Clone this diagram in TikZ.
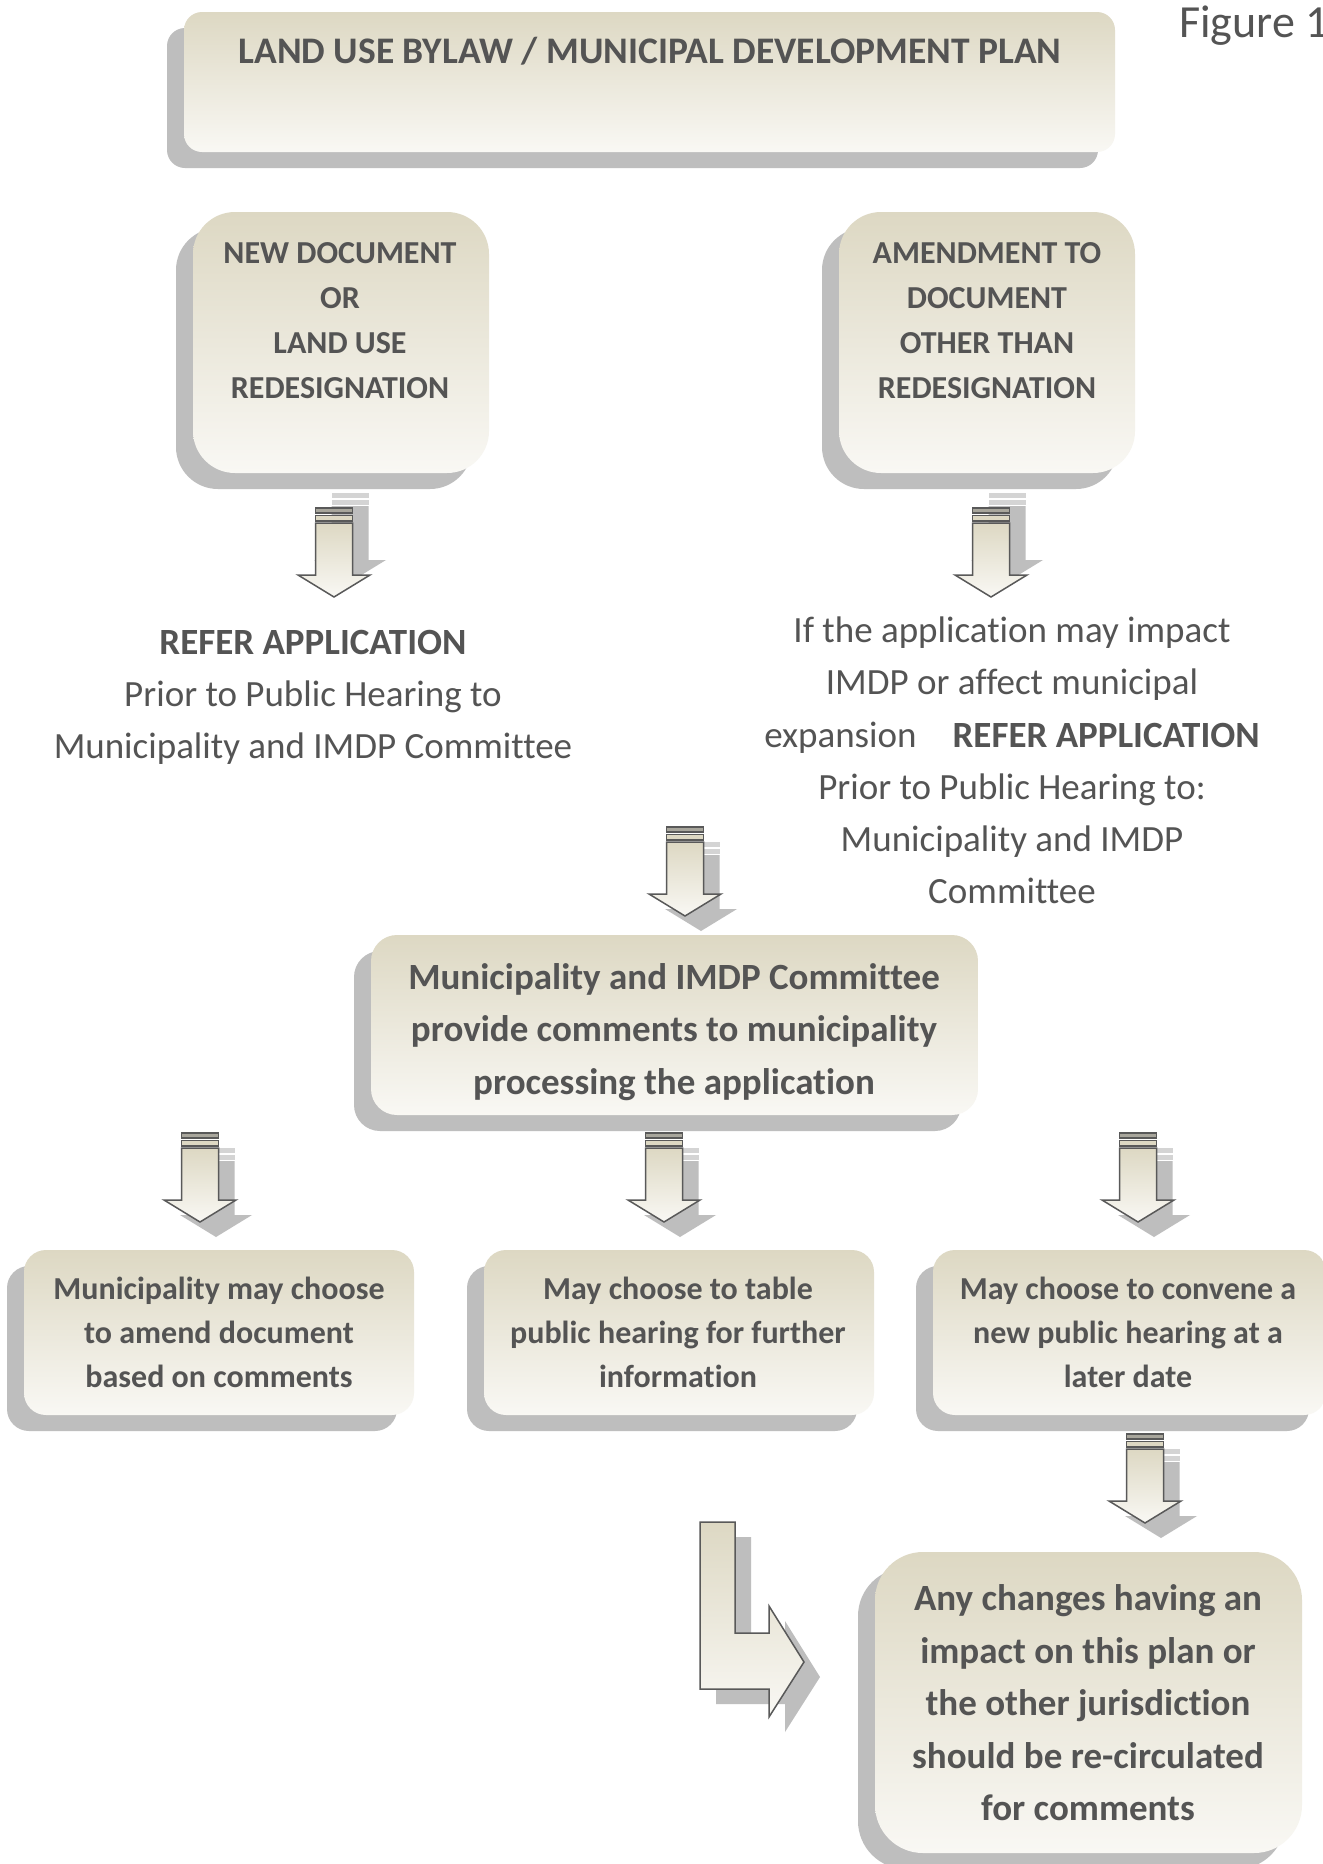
\documentclass[tikz,border=0pt]{standalone}
\usepackage{fontspec}
\setmainfont{Carlito}[RawFeature={-liga;-clig;-dlig}]
\definecolor{tanC}{RGB}{221,216,195}
\definecolor{lightC}{RGB}{249,248,244}
\definecolor{shadowC}{RGB}{190,190,190}
\definecolor{shstripeC}{RGB}{212,212,212}
\definecolor{textC}{RGB}{84,84,84}
\definecolor{lineC}{RGB}{89,89,89}
\definecolor{stripeC}{RGB}{168,166,156}

% shadowed rounded box: name, x, y, width, height, radius
\newcommand\shbox[6]{%
  \fill[shadowC, rounded corners=#6pt] ({#2-17},{#3+16}) rectangle +(#4,#5);
  \node[boxC, rounded corners=#6pt, minimum width=#4pt, minimum height=#5pt] (#1) at (#2,#3) {};
}
% block arrow pointing down: centre x, top y, shadow dx, shadow dy
\newcommand\dnarrow[4]{%
  \begin{scope}[shift={(#3,#4)}]
    \fill[shadowC] ({#1-18.5},{#2+13}) -- ({#1+18.5},{#2+13}) -- ({#1+18.5},{#2+67})
      -- ({#1+36},{#2+67}) -- (#1,{#2+89}) -- ({#1-36},{#2+67}) -- ({#1-18.5},{#2+67}) -- cycle;
    \fill[shstripeC] ({#1-18.5},#2) rectangle ({#1+18.5},{#2+5});
    \fill[shstripeC] ({#1-18.5},{#2+7}) rectangle ({#1+18.5},{#2+12});
  \end{scope}
  \path[aline, top color=tanC, bottom color=lightC] ({#1-18.5},{#2+15}) -- ({#1+18.5},{#2+15}) -- ({#1+18.5},{#2+67})
      -- ({#1+36},{#2+67}) -- (#1,{#2+89}) -- ({#1-36},{#2+67}) -- ({#1-18.5},{#2+67}) -- cycle;
  \draw[aline, fill=stripeC] ({#1-18.5},#2) rectangle ({#1+18.5},{#2+5});
  \draw[aline, fill=tanC] ({#1-18.5},{#2+7.5}) rectangle ({#1+18.5},{#2+13});
}

\begin{document}
\begin{tikzpicture}[x=1pt,y=-1pt,
  boxC/.style={draw=none, top color=tanC, bottom color=lightC, inner sep=0pt, outer sep=0pt, anchor=north west},
  capbox/.style={text=textC, font=\fontsize{32}{45}\selectfont\bfseries, align=center, inner sep=0pt},
  rowtxt/.style={text=textC, font=\fontsize{32}{44}\selectfont\bfseries, align=center, inner sep=0pt},
  bigbold/.style={text=textC, font=\fontsize{37}{52.5}\selectfont\bfseries, align=center, inner sep=0pt},
  bodytxt/.style={text=textC, font=\fontsize{37}{52.3}\selectfont, align=center, inner sep=0pt},
  aline/.style={draw=lineC, line width=1.5pt, line join=miter}
]
\useasboundingbox (0,0) rectangle (1323,1864);
\fill[white] (0,0) rectangle (1323,1864);

% boxes
\shbox{top}{184}{12}{931}{140}{18}
\shbox{newdoc}{193}{212}{296}{261}{42}
\shbox{amend}{839}{212}{296}{261}{42}
\shbox{mid}{371}{935}{607}{180}{26}
\shbox{rowA}{24}{1250}{390}{165}{22}
\shbox{rowB}{484}{1250}{390}{165}{22}
\shbox{rowC}{933}{1250}{393}{165}{22}
\shbox{final}{875}{1552}{427}{301}{48}

% block arrows
\dnarrow{334}{508}{16}{-15}
\dnarrow{991}{508}{16}{-15}
\dnarrow{685}{827}{16}{15}
\dnarrow{200}{1133}{16}{15}
\dnarrow{664}{1133}{16}{15}
\dnarrow{1138}{1133}{16}{15}
\dnarrow{1145}{1434}{16}{15}

% bent arrow
\begin{scope}[shift={(16,15)}]
  \fill[shadowC] (700,1522) -- (735,1522) -- (735,1633) -- (769,1633) -- (769,1606) -- (804,1662)
    -- (769,1717) -- (769,1689) -- (700,1689) -- cycle;
\end{scope}
\path[aline, top color=tanC, bottom color=lightC] (700,1522) -- (735,1522) -- (735,1633) -- (769,1633)
  -- (769,1606) -- (804,1662) -- (769,1717) -- (769,1689) -- (700,1689) -- cycle;

% texts
\node[bigbold, font=\fontsize{37.5}{52.5}\selectfont\bfseries] (ttop) at (650,51) {LAND USE BYLAW / MUNICIPAL DEVELOPMENT PLAN};
\node[text=textC, font=\fontsize{46}{50}\selectfont, anchor=base west, inner sep=0pt] (fig) at (1179,37) {Figure 1};
\node[capbox] (tnew) at (340,321) {NEW DOCUMENT\\OR\\LAND USE\\REDESIGNATION};
\node[capbox] (tamend) at (987,321) {AMENDMENT TO\\DOCUMENT\\OTHER THAN\\REDESIGNATION};
\node[bodytxt] (trefA) at (313,697.5) {\textbf{REFER APPLICATION}\\Prior to Public Hearing to\\Municipality and IMDP Committee};
\node[bodytxt] (trefB) at (1012,760.5) {If the application may impact\\IMDP or affect municipal\\expansion\hspace*{36pt}\textbf{REFER APPLICATION}\\Prior to Public Hearing to:\\Municipality and IMDP\\Committee};
\node[bigbold] (tmid) at (674,1032) {Municipality and IMDP Committee\\provide comments to municipality\\processing the application};
\node[rowtxt] (tA) at (219,1332) {Municipality may choose\\to amend document\\based on comments};
\node[rowtxt] (tB) at (678,1332) {May choose to table\\public hearing for further\\information};
\node[rowtxt] (tC) at (1128,1332) {May choose to convene a\\new public hearing at a\\later date};
\node[bigbold] (tfinal) at (1088,1703) {Any changes having an\\impact on this plan or\\the other jurisdiction\\should be re-circulated\\for comments};
\end{tikzpicture}
\end{document}
